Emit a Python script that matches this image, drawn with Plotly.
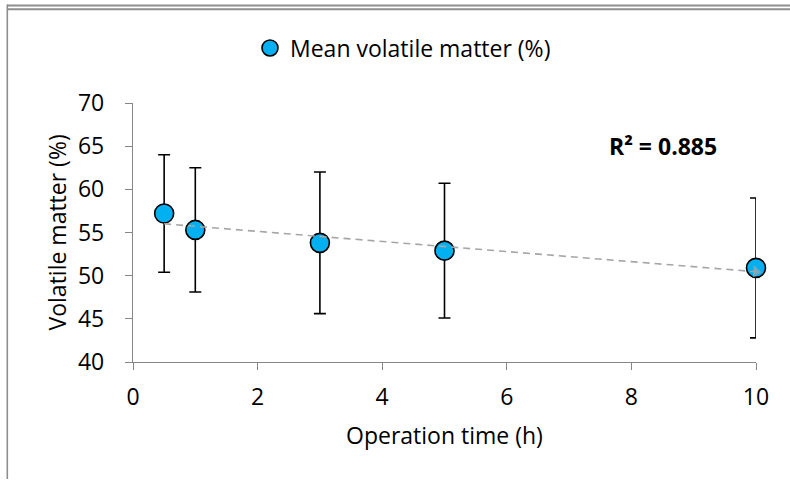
import numpy as np
import plotly.graph_objects as go

# Operation time (h) and mean volatile matter (%) with standard deviation
time_h = [0.5, 1, 3, 5, 10]
mean_vm = [57.2, 55.3, 53.8, 52.9, 50.9]
sd_vm = [6.8, 7.2, 8.2, 7.8, 8.1]

# Coefficient of determination reported for the linear trend
r_squared = 0.885

x_ticks = [0, 2, 4, 6, 8, 10]
y_ticks = [40, 45, 50, 55, 60, 65, 70]

FONT = "Open Sans"
FS = 23
AXIS_GREY = "#868686"

# Linear trend fitted through the means
slope, intercept = np.polyfit(time_h, mean_vm, 1)
trend_x = [time_h[0], time_h[-1]]
trend_y = [slope * v + intercept for v in trend_x]

fig = go.Figure()

fig.add_trace(go.Scatter(
    x=time_h, y=mean_vm,
    mode="markers",
    name="Mean volatile matter (%)",
    cliponaxis=False,
    marker=dict(size=19, color="#00B0F0", line=dict(color="black", width=1.6)),
    error_y=dict(type="data", array=sd_vm, visible=True,
                 color="black", thickness=1.6, width=6),
))

fig.add_trace(go.Scatter(
    x=trend_x, y=trend_y,
    mode="lines+markers",
    showlegend=False,
    cliponaxis=False,
    line=dict(color="#a6a6a6", width=1.6, dash="7px,5px"),
    marker=dict(symbol="triangle-up", size=[0, 11], color="#a6a6a6",
                angleref="previous", line=dict(width=0)),
    hoverinfo="skip",
))

fig.add_annotation(
    x=8.5, y=65, xref="x", yref="y",
    text=f"<b>R² = {r_squared:.3f}</b>", showarrow=False,
    font=dict(family=FONT, size=FS, color="black"),
)

# Axis titles
fig.add_annotation(
    x=0.5, y=-0.283, xref="paper", yref="paper",
    text="Operation time (h)", showarrow=False,
    font=dict(family=FONT, size=FS, color="black"),
    xanchor="center", yanchor="middle",
)
fig.add_annotation(
    x=(56 - 133) / 623, y=0.5, xref="paper", yref="paper",
    text="Volatile matter (%)", showarrow=False, textangle=-90,
    font=dict(family=FONT, size=FS, color="black"),
    xanchor="center", yanchor="middle",
)

# Outer frame lines
frame = "#8e8e8e"
for y_px in (4.5, 8.5):
    fig.add_shape(type="line", xref="paper", yref="paper",
                  x0=(7 - 133) / 623, x1=(790 - 133) / 623,
                  y0=1 + (102.5 - y_px) / 260, y1=1 + (102.5 - y_px) / 260,
                  line=dict(color=frame, width=2))
fig.add_shape(type="line", xref="paper", yref="paper",
              x0=(7.3 - 133) / 623, x1=(7.3 - 133) / 623,
              y0=-(117.5) / 260, y1=1 + (102.5 - 3.5) / 260,
              line=dict(color=frame, width=1.6))

fig.update_layout(
    width=790, height=480,
    margin=dict(l=133, r=34, t=102.5, b=117.5),
    paper_bgcolor="white", plot_bgcolor="white",
    font=dict(family=FONT, size=FS, color="black"),
    showlegend=True,
    legend=dict(
        orientation="h", xref="container", yref="container",
        x=(250) / 790, y=0.9, xanchor="left", yanchor="middle",
        font=dict(family=FONT, size=FS, color="black"),
        itemwidth=30, bgcolor="rgba(0,0,0,0)",
    ),
    xaxis=dict(
        range=[0, 10], tickvals=x_ticks, ticks="outside", ticklen=7,
        tickcolor=AXIS_GREY, tickwidth=1.3, showline=True, linecolor=AXIS_GREY,
        linewidth=1.3, showgrid=False, zeroline=False, ticklabelstandoff=7,
        tickfont=dict(family=FONT, size=FS, color="black"),
    ),
    yaxis=dict(
        range=[40, 70], tickvals=y_ticks, ticks="outside", ticklen=7,
        tickcolor=AXIS_GREY, tickwidth=1.3, showline=True, linecolor=AXIS_GREY,
        linewidth=1.3, showgrid=False, zeroline=False, ticklabelstandoff=16,
        tickfont=dict(family=FONT, size=FS, color="black"),
    ),
)

fig.write_html("out.html")
